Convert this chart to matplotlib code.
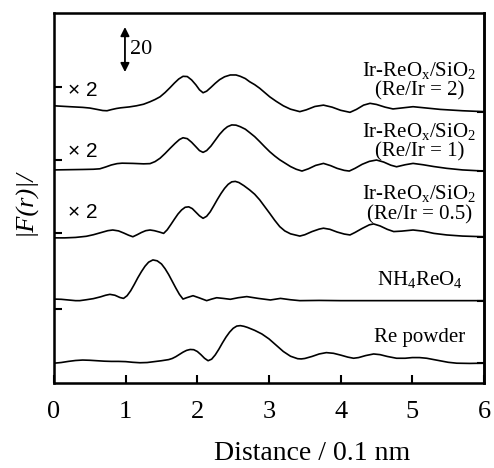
import matplotlib
matplotlib.use('Agg')
import matplotlib.pyplot as plt
import numpy as np

# ============================================
# DATA
# ============================================

# Re powder
r_re = [0.0, 0.1, 0.2, 0.3, 0.4, 0.5, 0.6, 0.7, 0.8, 0.9, 1.0, 1.1, 1.2, 1.3, 1.4, 1.5,
        1.6, 1.65, 1.7, 1.75, 1.8, 1.85, 1.9, 1.95, 2.0, 2.05, 2.1, 2.15, 2.2, 2.25, 2.3,
        2.35, 2.4, 2.45, 2.5, 2.55, 2.6, 2.65, 2.7, 2.8, 2.9, 3.0, 3.1, 3.2, 3.3, 3.4,
        3.45, 3.5, 3.6, 3.7, 3.8, 3.9, 4.0, 4.1, 4.18, 4.25, 4.35, 4.46, 4.55, 4.65,
        4.78, 4.9, 5.0, 5.1, 5.2, 5.3, 5.4, 5.5, 5.62, 5.8, 6.0]
f_re = [8.8, 9.1, 9.6, 10.0, 10.2, 10.1, 9.9, 9.7, 9.6, 9.6, 9.5, 9.2, 9.0, 9.1, 9.5, 9.9,
        10.4, 10.9, 11.7, 12.7, 13.7, 14.5, 14.9, 14.8, 14.0, 12.6, 11.0, 9.9, 10.6, 12.5, 15.0,
        17.8, 20.4, 22.6, 24.3, 25.3, 25.5, 25.2, 24.7, 23.4, 21.8, 19.6, 16.8, 14.0, 11.9, 10.8,
        10.7, 10.9, 11.8, 12.9, 13.5, 13.2, 12.4, 11.5, 11.0, 11.3, 12.2, 12.9, 12.6, 11.8,
        11.0, 11.0, 11.3, 11.3, 11.0, 10.4, 9.8, 9.2, 8.8, 8.7, 8.8]

# NH4ReO4
r_nh4 = [0.0, 0.1, 0.2, 0.3, 0.36, 0.45, 0.55, 0.65, 0.72, 0.78, 0.85, 0.92, 0.97, 1.02,
         1.07, 1.12, 1.17, 1.22, 1.27, 1.32, 1.38, 1.44, 1.5, 1.55, 1.6, 1.65, 1.7, 1.75,
         1.8, 1.85, 1.94, 2.03, 2.13, 2.2, 2.27, 2.36, 2.46, 2.57, 2.69, 2.85, 3.02, 3.1,
         3.16, 3.3, 3.43, 3.7, 4.0, 4.5, 5.0, 5.5, 6.0]
f_nh4 = [4.3, 4.2, 3.9, 3.6, 3.6, 4.0, 4.5, 5.3, 6.0, 6.4, 6.0, 5.0, 4.6, 5.8,
         8.0, 10.8, 13.8, 16.5, 18.9, 20.7, 21.7, 21.3, 19.9, 17.8, 15.2, 12.2, 9.2, 6.4,
         4.3, 4.9, 5.8, 4.8, 3.6, 4.3, 4.9, 4.6, 4.2, 4.9, 5.4, 4.6, 3.9, 4.3,
         4.6, 4.0, 3.6, 3.7, 3.6, 3.6, 3.6, 3.6, 3.6]

# Ir-ReOx/SiO2 (Re/Ir = 0.5), x2
r_05 = [0.0, 0.15, 0.3, 0.45, 0.55, 0.65, 0.75, 0.82, 0.9, 0.97, 1.04, 1.1, 1.16, 1.22,
        1.28, 1.34, 1.4, 1.47, 1.53, 1.58, 1.63, 1.68, 1.73, 1.78, 1.83, 1.88, 1.93, 1.98,
        2.03, 2.08, 2.13, 2.18, 2.23, 2.28, 2.33, 2.38, 2.43, 2.48, 2.53, 2.58, 2.65, 2.73,
        2.8, 2.87, 2.94, 3.01, 3.08, 3.15, 3.22, 3.3, 3.43, 3.5, 3.6, 3.7, 3.76, 3.85, 3.95,
        4.05, 4.13, 4.2, 4.3, 4.4, 4.46, 4.55, 4.65, 4.74, 4.85, 5.01, 5.15, 5.3, 5.48,
        5.7, 6.0]
f_05 = [-2.0, -2.0, -1.8, -1.3, -0.6, 0.3, 1.2, 1.5, 1.1, 0.2, -0.8, -1.5, -0.6, 0.4,
        1.2, 1.5, 1.2, 0.6, 0.0, 1.6, 3.9, 6.3, 8.6, 10.4, 11.6, 11.8, 11.0, 9.4,
        7.8, 6.7, 7.6, 9.6, 12.3, 15.1, 17.7, 20.0, 21.8, 22.9, 23.1, 22.6, 21.2, 19.3,
        17.4, 14.9, 11.9, 8.9, 5.8, 3.0, 1.1, -0.2, -1.2, -0.6, 0.8, 1.9, 2.3, 1.8, 0.6,
        -0.3, -0.7, 0.4, 2.2, 3.8, 4.2, 3.3, 1.8, 0.8, 1.0, 1.5, 1.0, 0.0, -0.7,
        -1.2, -1.5]

# Ir-ReOx/SiO2 (Re/Ir = 1), x2
r_1 = [0.0, 0.2, 0.4, 0.55, 0.64, 0.72, 0.8, 0.88, 0.95, 1.1, 1.25, 1.34, 1.41, 1.48,
       1.55, 1.62, 1.69, 1.75, 1.8, 1.86, 1.92, 1.98, 2.03, 2.08, 2.13, 2.19, 2.25, 2.31,
       2.37, 2.42, 2.48, 2.54, 2.6, 2.67, 2.73, 2.8, 2.87, 2.94, 3.01, 3.08, 3.15, 3.23,
       3.3, 3.38, 3.46, 3.55, 3.65, 3.76, 3.86, 3.95, 4.05, 4.12, 4.2, 4.3, 4.4, 4.5,
       4.6, 4.7, 4.78, 4.9, 5.01, 5.15, 5.3, 5.48, 5.7, 6.0]
f_1 = [-4.3, -4.2, -4.1, -4.0, -3.8, -3.0, -2.1, -1.5, -1.3, -1.4, -1.6, -1.5, -0.6, 0.9,
       3.0, 5.3, 7.5, 9.2, 10.0, 9.6, 8.0, 6.0, 4.3, 3.5, 4.3, 6.3, 8.9, 11.5,
       13.6, 14.9, 15.7, 15.6, 14.9, 13.8, 12.3, 10.5, 8.3, 6.0, 3.8, 1.9, 0.2, -1.4,
       -2.8, -4.0, -4.8, -3.8, -2.3, -1.4, -2.4, -3.6, -4.5, -4.8, -3.6, -1.8, -0.5, 0.1,
       -0.8, -2.2, -2.9, -2.0, -1.4, -2.0, -2.8, -3.6, -4.3, -4.8]

# Ir-ReOx/SiO2 (Re/Ir = 2), x2
r_2 = [0.0, 0.22, 0.4, 0.5, 0.6, 0.68, 0.74, 0.8, 0.87, 0.93, 1.05, 1.15, 1.25, 1.34,
       1.41, 1.48, 1.55, 1.62, 1.68, 1.74, 1.8, 1.86, 1.92, 1.98, 2.03, 2.08, 2.13, 2.19,
       2.25, 2.31, 2.38, 2.46, 2.54, 2.6, 2.67, 2.73, 2.8, 2.87, 2.94, 3.01, 3.1, 3.2,
       3.3, 3.43, 3.52, 3.64, 3.76, 3.88, 4.0, 4.13, 4.22, 4.32, 4.41, 4.5, 4.62, 4.73,
       4.87, 5.01, 5.2, 5.39, 5.7, 6.0]
f_2 = [-8.3, -8.7, -9.0, -9.3, -9.9, -10.4, -10.5, -10.0, -9.5, -9.2, -8.8, -8.3, -7.6, -6.5,
       -5.5, -4.3, -2.4, -0.2, 1.8, 3.6, 4.8, 4.7, 3.2, 1.0, -1.2, -2.5, -1.8, -0.1,
       1.7, 3.3, 4.6, 5.4, 5.4, 4.8, 3.8, 2.4, 1.1, -0.5, -2.4, -4.3, -6.3, -8.3,
       -9.8, -10.9, -10.1, -8.6, -8.0, -8.9, -10.3, -11.2, -9.9, -8.0, -7.2, -7.7, -8.9, -9.7,
       -9.2, -8.7, -9.3, -9.9, -10.5, -10.9]

curves = [(r_re, f_re), (r_nh4, f_nh4), (r_05, f_05), (r_1, f_1), (r_2, f_2)]
offsets = [0, 33, 66.5, 99, 131.5]

labels = ['Re powder', r'NH$_4$ReO$_4$',
          ('Ir-ReO$_\\mathregular{x}$/SiO$_2$', '(Re/Ir = 0.5)'),
          ('Ir-ReO$_\\mathregular{x}$/SiO$_2$', '(Re/Ir = 1)'),
          ('Ir-ReO$_\\mathregular{x}$/SiO$_2$', '(Re/Ir = 2)')]
label_y = [20.4, 45.8, (84.4, 74.7), (112.0, 102.7), (138.7, 129.8)]
scale_y = [75.6, 102.7, 130.2]

# ============================================
# PLOT
# ============================================

plt.rcParams['font.family'] = 'Liberation Serif'
plt.rcParams['mathtext.fontset'] = 'custom'
plt.rcParams['mathtext.rm'] = 'Liberation Serif'
plt.rcParams['mathtext.it'] = 'Liberation Serif:italic'

fig = plt.figure(figsize=(4.94, 4.68), dpi=100)
ax = fig.add_axes([54 / 494, 85 / 468, 430 / 494, 370 / 468])

for (r, f), off in zip(curves, offsets):
    ax.plot(r, np.array(f) + off, color='black', linewidth=1.2)

ax.set_xlim(0, 6)
ax.set_ylim(0, 370 / 2.25)

ax.set_xticks(range(7))
ax.tick_params(axis='x', direction='in', length=6, width=1.5, labelsize=19, pad=13)
ax.set_yticks(offsets[1:])
ax.set_yticklabels([])
ax.tick_params(axis='y', direction='in', length=6, width=1.5)
for s in ax.spines.values():
    s.set_linewidth(1.8)

ax2 = ax.twinx()
ax2.set_ylim(ax.get_ylim())
ax2.set_yticks([f[-1] + off for (r, f), off in zip(curves, offsets)])
ax2.set_yticklabels([])
ax2.tick_params(axis='y', direction='in', length=5, width=1.5)
ax2.spines['right'].set_linewidth(1.8)

# curve labels
for lab, y in zip(labels, label_y):
    if isinstance(lab, tuple):
        ax.text(5.1, y[0], lab[0], ha='center', va='center', fontsize=15)
        ax.text(5.1, y[1], lab[1], ha='center', va='center', fontsize=15)
    else:
        ax.text(5.1, y, lab, ha='center', va='center', fontsize=15)

for y in scale_y:
    ax.text(0.19, y, '× 2', ha='left', va='center', fontsize=15, family='Liberation Sans')

# scale bar: 20 units
ax.annotate('', xy=(0.99, 158.2), xytext=(0.99, 138.2),
            arrowprops=dict(arrowstyle='<|-|>', color='black', lw=1.3,
                            mutation_scale=13, shrinkA=0, shrinkB=0))
ax.text(1.06, 148.2, '20', ha='left', va='center', fontsize=16)

fig.text(312 / 494, 1 - 453 / 468, 'Distance / 0.1 nm', ha='center', va='center', fontsize=20)
fig.text(25 / 494, 1 - 202 / 468, '|F(r)|/', ha='center', va='center', fontsize=19,
         rotation=90, fontstyle='italic')

plt.savefig('out.png', dpi=100, facecolor='white')
